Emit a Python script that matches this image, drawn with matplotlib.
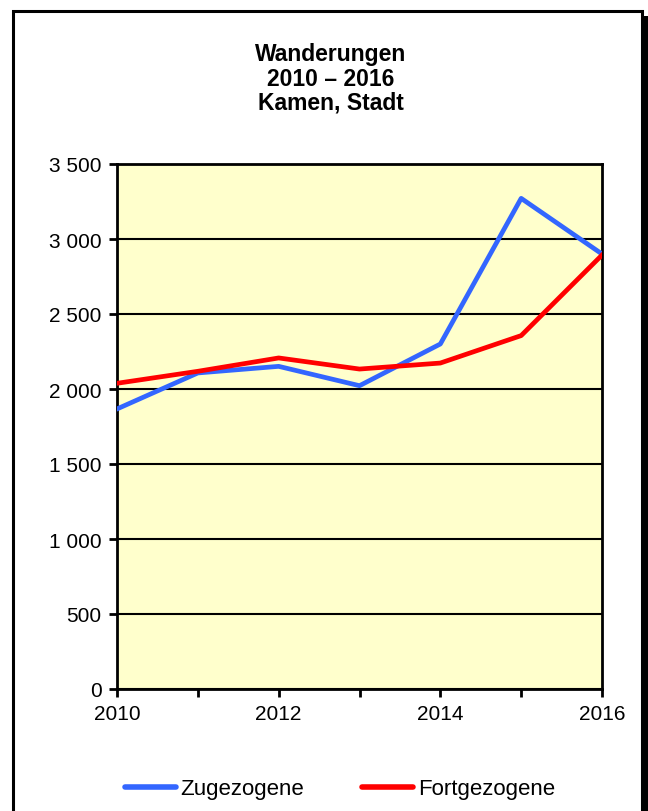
import matplotlib
matplotlib.use("Agg")
import matplotlib.pyplot as plt
from matplotlib.patches import Rectangle
from matplotlib.ticker import FuncFormatter, MultipleLocator

plt.rcParams['font.family'] = ['Liberation Sans', 'DejaVu Sans']

# Wanderungen Kamen, Stadt
jahre = [2010, 2011, 2012, 2013, 2014, 2015, 2016]
zugezogene = [1867, 2107, 2151, 2022, 2300, 3271, 2900]
fortgezogene = [2038, 2118, 2207, 2133, 2173, 2356, 2893]

fig = plt.figure(figsize=(6.48, 8.12), dpi=100)
ax = fig.add_axes([117 / 648, 1 - 690 / 812, 485 / 648, 525 / 812])

# Rahmen mit Schatten rechts
fig.patches.append(Rectangle((13 / 648, -0.01), 629 / 648, 1 - 12 / 812 + 0.01,
                             transform=fig.transFigure, fill=False,
                             edgecolor='black', linewidth=2.2, zorder=0))
fig.patches.append(Rectangle((642 / 648, -0.01), 6 / 648, 1 - 17 / 812 + 0.01,
                             transform=fig.transFigure, facecolor='black',
                             edgecolor='none', zorder=0))

ax.set_facecolor('#FFFFCC')
ax.plot(jahre, zugezogene, color='#3366FF', linewidth=3.4, label='Zugezogene', zorder=3)
ax.plot(jahre, fortgezogene, color='#FF0000', linewidth=3.4, label='Fortgezogene', zorder=4)

ax.set_xlim(2010, 2016)
ax.set_ylim(0, 3500)
ax.yaxis.set_major_locator(MultipleLocator(500))
ax.yaxis.set_major_formatter(FuncFormatter(lambda v, p: f'{int(v):,}'.replace(',', ' ')))
ax.set_xticks([2010, 2012, 2014, 2016])
ax.set_xticks([2011, 2013, 2015], minor=True)
ax.grid(axis='y', color='black', linewidth=1.5, zorder=1)
ax.set_axisbelow(True)

for s in ax.spines.values():
    s.set_linewidth(2)
ax.tick_params(axis='both', which='both', direction='out', length=6, width=2,
               labelsize=15, pad=5)
ax.tick_params(axis='x', which='minor', length=6, width=2)

fig.text(331 / 648, 1 - 79 / 812, 'Wanderungen\n2010 – 2016\nKamen, Stadt',
         ha='center', va='center', fontsize=16.5, fontweight='bold', linespacing=1.06)

leg = fig.legend(loc='center', bbox_to_anchor=(340 / 648, 1 - 790 / 812), ncol=2,
                 frameon=False, fontsize=16, handlelength=2.3, handletextpad=0.2,
                 columnspacing=2.6)
for h in leg.get_lines():
    h.set_linewidth(4)
    h.set_solid_capstyle('round')

fig.savefig('out.png', dpi=100)
